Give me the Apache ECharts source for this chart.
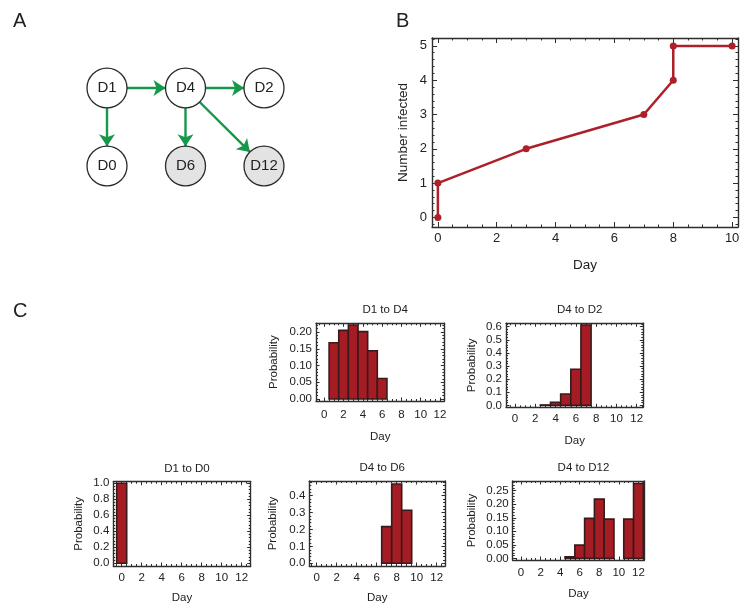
<!DOCTYPE html>
<html><head><meta charset="utf-8">
<script src="https://cdn.jsdelivr.net/npm/echarts@6/dist/echarts.min.js"></script>
<style>html,body{margin:0;padding:0;background:#fff}#c{width:746px;height:610px}</style>
</head><body><div id="c"></div>
<script>
// ---------- Panel A: transmission network ----------
const nodeNames = ['D1', 'D4', 'D2', 'D0', 'D6', 'D12'];
const nodeCols  = [0, 1, 2, 0, 1, 2];
const nodeRows  = [0, 0, 0, 1, 1, 1];
const nodeShaded = [false, false, false, false, true, true];
const edgeFrom = ['D1', 'D4', 'D1', 'D4', 'D4'];
const edgeTo   = ['D4', 'D2', 'D0', 'D6', 'D12'];

// ---------- Panel B: number infected ----------
const infDays  = [0, 0, 3, 7, 8, 8, 10];
const infCount = [0, 1, 2, 3, 4, 5, 5];
const infXTicks = ['0', '2', '4', '6', '8', '10'];
const infYTicks = ['0', '1', '2', '3', '4', '5'];

// ---------- Panel C: infection-time distributions ----------
const histDays = [0, 1, 2, 3, 4, 5, 6, 7, 8, 9, 10, 11, 12];
const histTitles = ['D1 to D4', 'D4 to D2', 'D1 to D0', 'D4 to D6', 'D4 to D12'];
const probD1D4  = [0, 0.168, 0.205, 0.221, 0.201, 0.144, 0.061, 0, 0, 0, 0, 0, 0];
const probD4D2  = [0, 0, 0, 0.003, 0.023, 0.086, 0.275, 0.613, 0, 0, 0, 0, 0];
const probD1D0  = [1.0, 0, 0, 0, 0, 0, 0, 0, 0, 0, 0, 0, 0];
const probD4D6  = [0, 0, 0, 0, 0, 0, 0, 0.217, 0.469, 0.314, 0, 0, 0];
const probD4D12 = [0, 0, 0, 0, 0, 0.006, 0.049, 0.148, 0.219, 0.145, 0, 0.145, 0.277];
const dayTicks = ['0', '2', '4', '6', '8', '10', '12'];
const yTicksD1D4  = ['0.00', '0.05', '0.10', '0.15', '0.20'];
const yTicksD4D2  = ['0.0', '0.1', '0.2', '0.3', '0.4', '0.5', '0.6'];
const yTicksD1D0  = ['0.0', '0.2', '0.4', '0.6', '0.8', '1.0'];
const yTicksD4D6  = ['0.0', '0.1', '0.2', '0.3', '0.4'];
const yTicksD4D12 = ['0.00', '0.05', '0.10', '0.15', '0.20', '0.25'];

const histProbs = [probD1D4, probD4D2, probD1D0, probD4D6, probD4D12];
const histYTicks = [yTicksD1D4, yTicksD4D2, yTicksD1D0, yTicksD4D6, yTicksD4D12];

// ---------- layout (positions / styles) ----------
const FONT = '"Liberation Sans", Arial, Helvetica, sans-serif';
const FRAME = '#2e2e2e';
const BAR_FILL = '#a51c24';
const BAR_EDGE = '#371b1b';
const LINE_RED = '#ad2029';
const GREEN = '#16984a';

const histLayout = [
  { left: 316,   top: 323.3, width: 128.3, height: 77.7, xmin: -0.86, xmax: 12.45, ymin: -0.006, ymax: 0.226, ySplit: 5, lm: 8, ng: 30, yng: 36 },
  { left: 506,   top: 323.3, width: 137.3, height: 84,   xmin: -0.89, xmax: 12.65, ymin: -0.015, ymax: 0.626, ySplit: 6, lm: 6, ng: 28, yng: 28 },
  { left: 113.3, top: 481.7, width: 137.4, height: 84.3, xmin: -0.84, xmax: 12.9,  ymin: -0.034, ymax: 1.02,  ySplit: 5, lm: 6, ng: 26, yng: 28 },
  { left: 309.3, top: 481,   width: 135.7, height: 85,   xmin: -0.74, xmax: 12.83, ymin: -0.016, ymax: 0.487, ySplit: 5, lm: 6, ng: 26, yng: 30 },
  { left: 512.7, top: 481,   width: 131.6, height: 79,   xmin: -0.85, xmax: 12.6,  ymin: -0.006, ymax: 0.286, ySplit: 6, lm: 7, ng: 28, yng: 35 }
];

function labelFormatter(labels) {
  const vals = labels.map(Number);
  return function (v) {
    const i = vals.findIndex(t => Math.abs(t - v) < 1e-7);
    return i < 0 ? '' : labels[i];
  };
}

function axisPair(kind, gi, o) {
  const common = {
    type: 'value', gridIndex: gi, min: o.min, max: o.max, splitNumber: o.split,
    axisLine: { show: true, onZero: false, lineStyle: { color: FRAME, width: o.lw || 1.4 } },
    axisTick: { show: true, inside: true, length: o.tl || 4, lineStyle: { color: FRAME, width: 1 } },
    minorTick: { show: true, splitNumber: o.minor, length: o.ml || 2, lineStyle: { color: FRAME, width: 1 } },
    splitLine: { show: false }, minorSplitLine: { show: false }
  };
  const main = Object.assign({}, common, {
    position: kind === 'x' ? 'bottom' : 'left',
    name: o.name, nameLocation: 'middle', nameGap: o.nameGap,
    nameTextStyle: { fontFamily: FONT, fontSize: o.nameSize, color: '#222' },
    axisLabel: { show: true, margin: o.margin, fontFamily: FONT, fontSize: o.labelSize, color: '#222',
                 formatter: labelFormatter(o.labels), showMinLabel: true, showMaxLabel: true }
  });
  if (kind === 'y') main.nameRotate = 90;
  const opp = Object.assign({}, common, {
    position: kind === 'x' ? 'top' : 'right',
    axisLabel: { show: false }
  });
  return [main, opp];
}

const grids = [], xAxes = [], yAxes = [], series = [], titles = [];

// Panel letters
[['A', 8, 6], ['B', 391, 6], ['C', 8, 296]].forEach(([t, l, tp]) => {
  titles.push({ text: t, left: l, top: tp, textStyle: { fontFamily: FONT, fontSize: 20, fontWeight: 'normal', color: '#222' } });
});

// Panel B grid (index 0)
grids.push({ left: 432, top: 38, width: 306, height: 189 });
xAxes.push(...axisPair('x', 0, { min: -0.2, max: 10.2, split: 5, minor: 4, labels: infXTicks, name: 'Day', nameGap: 31,
  nameSize: 13.5, labelSize: 13, margin: 5, tl: 5, ml: 2.5 }));
yAxes.push(...axisPair('y', 0, { min: -0.28, max: 5.23, split: 5, minor: 5, labels: infYTicks, name: 'Number infected', nameGap: 22,
  nameSize: 13.5, labelSize: 13, margin: 5, tl: 5, ml: 2.5 }));
series.push({
  type: 'line', xAxisIndex: 0, yAxisIndex: 0,
  data: infDays.map((d, i) => [d, infCount[i]]),
  lineStyle: { color: LINE_RED, width: 2.5 }, itemStyle: { color: LINE_RED },
  symbol: 'circle', symbolSize: 7, showSymbol: true, clip: false, animation: false
});

// Panel C histograms (grid index 1..5)
histLayout.forEach((L, k) => {
  const gi = k + 1;
  grids.push({ left: L.left, top: L.top, width: L.width, height: L.height });
  xAxes.push(...axisPair('x', gi, { min: L.xmin, max: L.xmax, split: 6, minor: 4, labels: dayTicks, name: 'Day', nameGap: L.ng,
    nameSize: 11.5, labelSize: 11.5, margin: L.lm, tl: 3.5, ml: 2 }));
  yAxes.push(...axisPair('y', gi, { min: L.ymin, max: L.ymax, split: L.ySplit, minor: 5, labels: histYTicks[k], name: 'Probability', nameGap: L.yng,
    nameSize: 11.5, labelSize: 11.5, margin: 4, tl: 3.5, ml: 2 }));
  titles.push({ text: histTitles[k], left: L.left + L.width / 2, top: L.top - 24, textAlign: 'center',
    textStyle: { fontFamily: FONT, fontSize: 11.5, fontWeight: 'normal', color: '#222' } });
  series.push({
    type: 'custom', xAxisIndex: 2 * gi, yAxisIndex: 2 * gi, animation: false,
    data: histDays.map((d, i) => [d, histProbs[k][i]]),
    encode: { x: 0, y: 1 },
    renderItem: function (params, api) {
      const x = api.value(0), y = api.value(1);
      if (!(y > 0)) return null;
      const p0 = api.coord([x - 0.5, y]);
      const p1 = api.coord([x + 0.5, 0]);
      return { type: 'rect', shape: { x: p0[0], y: p0[1], width: p1[0] - p0[0], height: p1[1] - p0[1] },
        style: { fill: BAR_FILL, stroke: BAR_EDGE, lineWidth: 1.6 } };
    }
  });
});

// Panel A graph
series.push({
  type: 'graph', layout: 'none', roam: false, animation: false,
  left: 107, top: 88, width: 157, height: 78,
  symbol: 'circle', symbolSize: 40,
  edgeSymbol: ['none', 'arrow'], edgeSymbolSize: [0, 12],
  data: nodeNames.map((n, i) => ({
    name: n, x: nodeCols[i], y: nodeRows[i],
    itemStyle: { color: nodeShaded[i] ? '#e3e3e3' : '#ffffff', borderColor: '#2a2a2a', borderWidth: 1.3 }
  })),
  links: edgeFrom.map((f, i) => ({ source: f, target: edgeTo[i] })),
  label: { show: true, position: 'inside', fontFamily: FONT, fontSize: 15, color: '#222' },
  lineStyle: { color: GREEN, width: 2.4, opacity: 1, curveness: 0 },
  emphasis: { disabled: true }
});

const chart = echarts.init(document.getElementById('c'), null, { renderer: 'canvas' });
chart.setOption({
  animation: false, backgroundColor: '#fff',
  title: titles, grid: grids, xAxis: xAxes, yAxis: yAxes, series: series
});
</script></body></html>
